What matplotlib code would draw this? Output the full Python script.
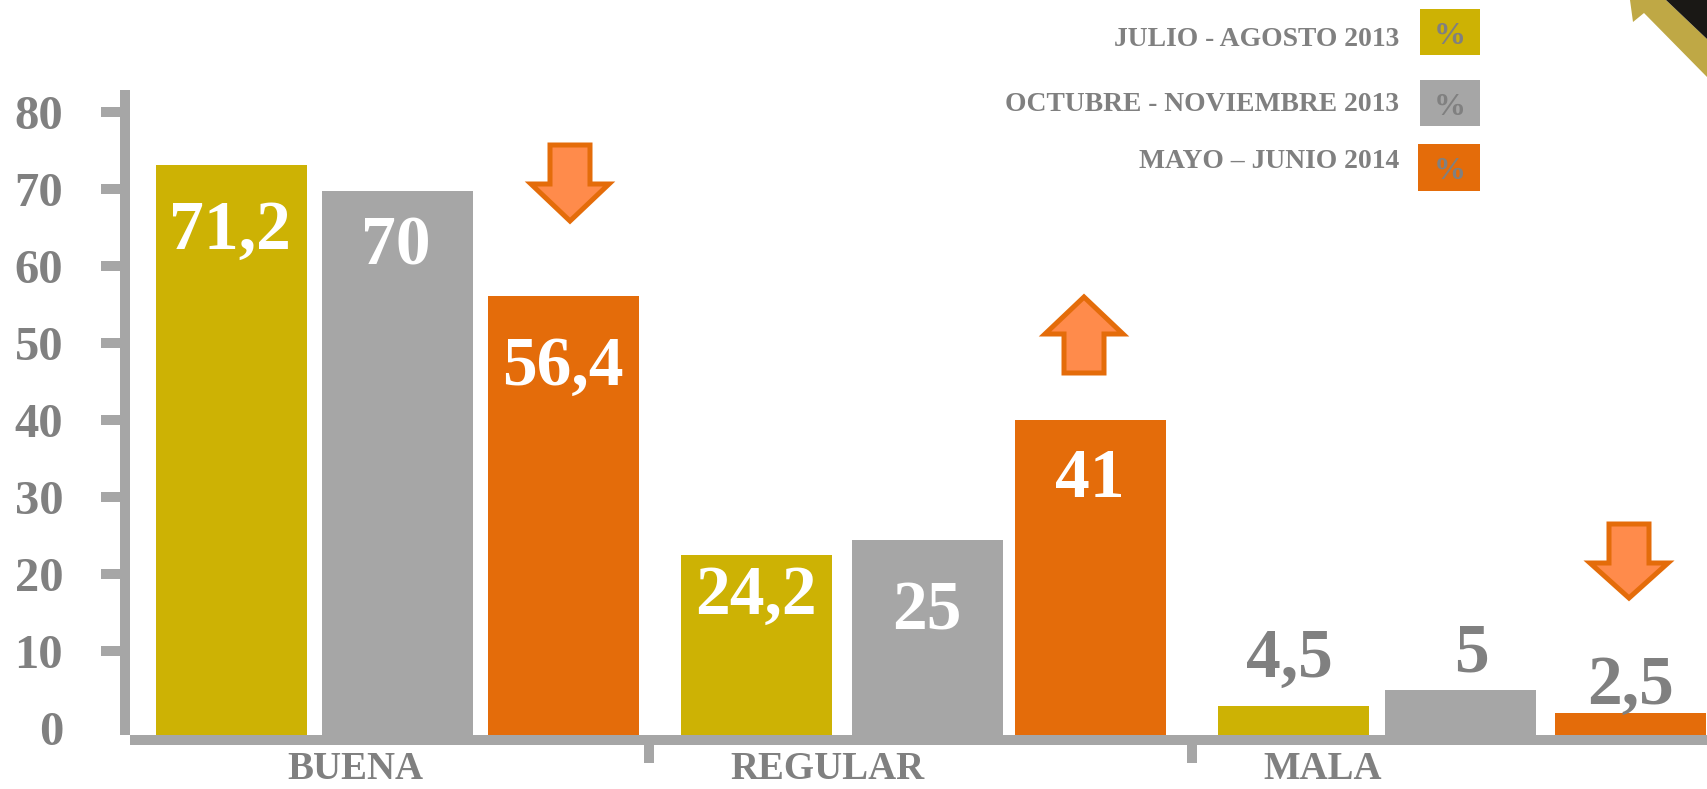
import matplotlib
matplotlib.use("Agg")
import matplotlib.pyplot as plt
from matplotlib.patches import Polygon, Rectangle

categories = ["BUENA", "REGULAR", "MALA"]
series_names = ["JULIO - AGOSTO 2013", "OCTUBRE - NOVIEMBRE 2013", "MAYO – JUNIO 2014"]
# bar heights as drawn against the y axis
julio_agosto = [73.1, 22.5, 2.9]
octubre_noviembre = [69.7, 24.4, 4.9]
mayo_junio = [56.1, 40.0, 1.9]
# printed labels
label_julio = ["71,2", "24,2", "4,5"]
label_octubre = ["70", "25", "5"]
label_mayo = ["56,4", "41", "2,5"]
y_ticks = [0, 10, 20, 30, 40, 50, 60, 70, 80]

W, H = 1707, 789
YEL, GRY, ORG = "#CDB204", "#A6A6A6", "#E46C0A"
TXT = "#808080"
FONT = "Liberation Serif"
plt.rcParams["font.family"] = [FONT, "DejaVu Serif"]
plt.rcParams["font.weight"] = "bold"

fig = plt.figure(figsize=(W / 100, H / 100), dpi=100, facecolor="white")
def fx(x): return x / W
def fy(y): return 1 - y / H

# layout in pixels
AX_L, AX_R, AX_T, AX_B = 125, 1707, 90, 740
ax = fig.add_axes([fx(AX_L), fy(AX_B), fx(AX_R - AX_L), (AX_B - AX_T) / H])
ax.patch.set_alpha(0)
PX_PER_UNIT, ZERO_PX = 7.7, 728
ax.set_xlim(AX_L, AX_R)
ax.set_ylim((ZERO_PX - AX_B) / PX_PER_UNIT, (ZERO_PX - AX_T) / PX_PER_UNIT)
baseline = (ZERO_PX - 735) / PX_PER_UNIT

bar_slots = [[231, 756, 1293], [397, 927, 1460], [563, 1090, 1630]]
width = 151
series = [julio_agosto, octubre_noviembre, mayo_junio]
labels = [label_julio, label_octubre, label_mayo]
colors = [YEL, GRY, ORG]
# label centre distance below (+) or above (-) the bar top, px
label_gap = [[67, 42, -46], [56, 72, -36], [72, 60, -27]]
# sideways nudge of each label, px
label_shift = [[-1, 0, -4], [-1, 0, 11], [0, 0, 0]]
for xs, vals, labs, col, gaps, shifts in zip(bar_slots, series, labels, colors, label_gap, label_shift):
    ax.bar(xs, [v - baseline for v in vals], bottom=baseline, width=width, color=col, linewidth=0, zorder=2)
    for x, v, lab, gap, sh in zip(xs, vals, labs, gaps, shifts):
        ax.annotate(lab, (x, v), xytext=(sh * 0.72, -gap * 0.72), textcoords="offset points",
                    ha="center", va="center", fontsize=50,
                    color="white" if gap > 0 else TXT, zorder=3)

for side in ("top", "right"):
    ax.spines[side].set_visible(False)
for side in ("left", "bottom"):
    ax.spines[side].set_linewidth(7.2)
    ax.spines[side].set_color(GRY)
    ax.spines[side].set_capstyle("butt")
ax.spines["left"].set_bounds(baseline, ax.get_ylim()[1])
ax.spines["bottom"].set_bounds(130, AX_R)

ax.set_yticks(y_ticks)
ax.set_yticklabels([str(t) for t in y_ticks])
ax.tick_params(axis="y", length=17.5, width=7.2, color=GRY, labelcolor=TXT, labelsize=35, pad=27)
ax.yaxis.get_major_ticks()[0].tick1line.set_visible(False)

ax.set_xticks([355, 827, 1323])
ax.set_xticklabels(categories)
ax.tick_params(axis="x", which="major", length=0, labelcolor=TXT, labelsize=28, pad=8)
ax.set_xticks([649, 1192], minor=True)
ax.tick_params(axis="x", which="minor", length=16.5, width=7.2, color=GRY)

# legend
overlay = fig.add_axes([0, 0, 1, 1], zorder=5)
overlay.set_xlim(0, W)
overlay.set_ylim(H, 0)
overlay.axis("off")
leg_y = [39, 104, 161]
swatches = [(1420, 9, 60, 46), (1420, 80, 60, 46), (1418, 144, 62, 47)]
for name, col, y, (sx, sy, sw, sh) in zip(series_names, colors, leg_y, swatches):
    overlay.text(1399, y, name, ha="right", va="center", fontsize=19.9, color=TXT)
    overlay.add_patch(Rectangle((sx, sy), sw, sh, color=col, lw=0))
    overlay.text(1450, sy + sh / 2 + 4, "%", ha="center", va="center", fontsize=23, color=TXT)

# trend arrows: centre, flat end, tip
def arrow(cx, end, tip):
    d = 1 if tip > end else -1
    shoulder = end + d * 39
    pts = [(cx - 20, end), (cx + 20, end), (cx + 20, shoulder), (cx + 39, shoulder),
           (cx, tip), (cx - 39, shoulder), (cx - 20, shoulder)]
    overlay.add_patch(Polygon(pts, closed=True, fc="#FF8B4B", ec=ORG, lw=3.6, joinstyle="miter"))
arrow(570, 145, 221)
arrow(1084, 373, 297)
arrow(1629, 524, 598)

# corner ornament
overlay.add_patch(Polygon([(1630, 0), (1633, 22), (1644, 13), (1707, 77), (1707, 39), (1666, 0)],
                          closed=True, fc="#BFA845", lw=0))
overlay.add_patch(Polygon([(1666, 0), (1707, 0), (1707, 39)], closed=True, fc="#1A1815", lw=0))

fig.savefig("out.png", dpi=100, facecolor="white")
